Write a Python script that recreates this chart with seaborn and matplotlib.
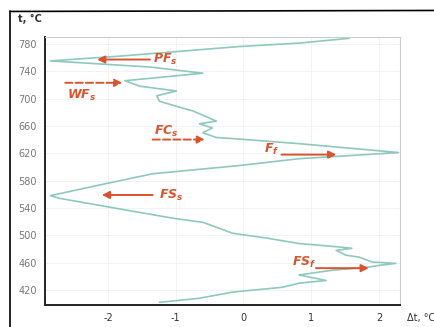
import pandas as pd
import seaborn as sns
import matplotlib.pyplot as plt
from matplotlib.lines import Line2D

# Curve, bottom (low t) to top (high t)
delta_t = [-1.24, -0.65, -0.16, 0.57, 0.82, 1.22, 0.82, 1.31, 1.81, 2.00,
           2.25, 1.90, 1.71, 1.51, 1.37, 1.60, 1.41, 0.82, 0.34, -0.16,
           -0.35, -0.60, -1.04, -1.68, -2.71, -2.85, -2.01, -1.34, -0.06, 0.82,
           2.29, 0.82, -0.10, -0.40, -0.60, -0.46, -0.65, -0.40, -0.75, -0.90,
           -1.24, -1.28, -0.99, -1.53, -1.75, -0.60, -1.38, -2.85, -1.82, -0.06,
           0.82, 1.56]
temp = [402, 408, 417, 424, 430, 434, 442, 449, 453, 456,
        459, 461, 468, 471, 478, 481, 483, 488, 496, 503,
        510, 519, 525, 536, 554, 558, 576, 590, 602, 612,
        621, 634, 641, 643, 650, 657, 663, 667, 682, 686,
        696, 704, 711, 718, 726, 737, 746, 755, 762, 776,
        781, 788]

y_ticks = [420, 460, 500, 540, 580, 620, 660, 700, 740, 780]
x_ticks = [-2, -1, 0, 1, 2]

# labelled arrows: name, text pos, arrow start, arrow end, dashed
labels = ["$PF_s$", "$WF_s$", "$FC_s$", "$F_f$", "$FS_s$", "$FS_f$"]
label_xy = [(-1.34, 757), (-2.60, 704), (-1.32, 652), (0.31, 625), (-1.24, 559), (0.72, 460)]
arrow_from = [(-1.38, 757), (-2.63, 723), (-1.34, 640), (0.56, 618), (-1.34, 559), (1.07, 452)]
arrow_to = [(-2.16, 757), (-1.79, 723), (-0.57, 640), (1.37, 618), (-2.09, 559), (1.85, 452)]
dashed = [False, True, True, False, False, False]

sns.set_theme(style="white")
plt.rcParams.update({
    "mathtext.fontset": "custom",
    "mathtext.it": "DejaVu Sans:italic:bold",
    "mathtext.rm": "DejaVu Sans:bold",
})
plt.rcParams["font.family"] = ["DejaVu Sans"]

df = pd.DataFrame({"dt": delta_t, "t": temp})

fig = plt.figure(figsize=(4.35, 3.27), dpi=100)
ax = fig.add_axes([0.1034, 0.067, 0.816, 0.82])
sns.lineplot(data=df, x="dt", y="t", sort=False, estimator=None,
             color="#8dc9bc", linewidth=1.2, ax=ax)

ax.set_xlim(-2.93, 2.31)
ax.set_ylim(398, 790)
ax.set_xticks(x_ticks)
ax.set_yticks(y_ticks)
ax.set_xticklabels([str(v) for v in x_ticks], fontsize=7, color="#333333")
ax.set_yticklabels([str(v) for v in y_ticks], fontsize=7, color="#777777")
ax.tick_params(length=0, pad=6)
ax.set_xlabel("")
ax.set_ylabel("")
ax.grid(True, color="#f0f0f0", linewidth=0.6)

for side in ["left", "bottom"]:
    ax.spines[side].set_color("#222222")
    ax.spines[side].set_linewidth(1.4)
for side in ["top", "right"]:
    ax.spines[side].set_color("#cccccc")
    ax.spines[side].set_linewidth(0.8)

red = "#d9542e"
for lab, txy, a0, a1, dsh in zip(labels, label_xy, arrow_from, arrow_to, dashed):
    ax.annotate("", xy=a1, xytext=a0,
                arrowprops=dict(arrowstyle="-|>", color=red, lw=1.4,
                                linestyle="--" if dsh else "-",
                                mutation_scale=11, shrinkA=0, shrinkB=0))
    ax.text(txy[0], txy[1], lab, color=red, fontsize=9,
            ha="left", va="center")

fig.text(0.041, 0.942, "t, °C", fontsize=7, fontweight="bold", color="#333333",
         ha="left", va="center")
fig.text(0.935, 0.028, "Δt, °C", fontsize=7, color="#333333",
         ha="left", va="center")

# scanned page frame
fig.add_artist(Line2D([0.023, 0.023], [0, 0.965], color="black", lw=1.2))
fig.add_artist(Line2D([0.023, 1.0], [0.965, 0.968], color="black", lw=1.2))

fig.savefig("out.png", dpi=100)
